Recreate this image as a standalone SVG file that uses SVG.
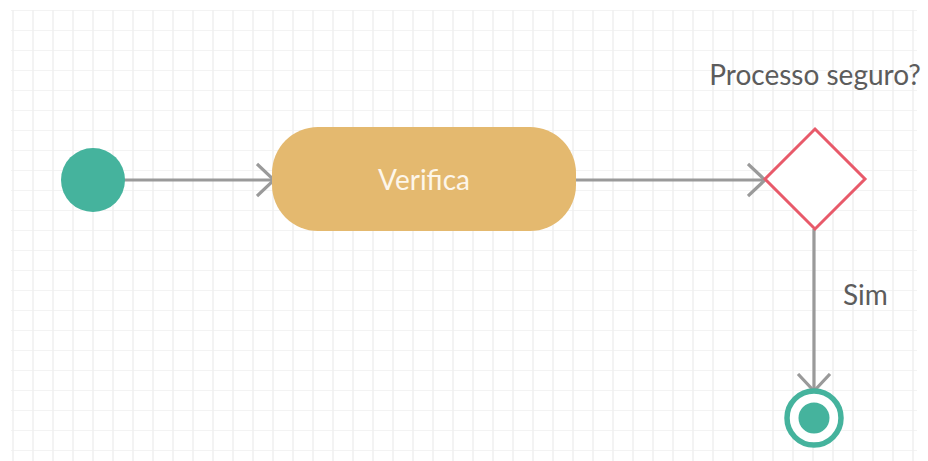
<svg xmlns="http://www.w3.org/2000/svg" width="928" height="461" viewBox="0 0 928 461">
  <defs>
    <pattern id="grid" x="3" y="10" width="20" height="20" patternUnits="userSpaceOnUse">
      <path d="M10 0V20M0 0H20" fill="none" stroke="#f0f0f0" stroke-width="1.6"/>
    </pattern>
    <marker id="open-arrow" viewBox="0 0 20 36" refX="18" refY="18" markerWidth="20" markerHeight="36" markerUnits="userSpaceOnUse" orient="auto">
      <path d="M1 2L18 18L1 34" fill="none" stroke="#9a9a9a" stroke-width="3.2"/>
    </marker>
    <style>
      .label { font-family: Lato, "Open Sans", sans-serif; font-size: 28px; fill: #5c5c5c; }
      .conn { fill: none; stroke: #9a9a9a; stroke-width: 3.2; marker-end: url(#open-arrow); }
      .state { fill: #45b39d; }
    </style>
  </defs>

  <!-- canvas -->
  <rect width="928" height="461" fill="#ffffff"/>
  <rect x="11" y="10" width="906" height="451" fill="url(#grid)"/>

  <!-- connectors -->
  <g id="connectors">
    <path class="conn" d="M124 180H274"/>
    <path class="conn" d="M576 180H765"/>
    <path class="conn" d="M814 229V391"/>
    <text class="label" x="843" y="305">Sim</text>
  </g>

  <g id="start">
    <circle class="state" cx="93" cy="180" r="32"/>
  </g>

  <g id="verifica">
    <rect x="272" y="127" width="304" height="104" rx="46" ry="46" fill="#e4b96f"/>
    <text x="424" y="190" text-anchor="middle" font-family="Lato, 'Open Sans', sans-serif" font-size="28" fill="#fdf6ea">Verifica</text>
  </g>

  <g id="decisao">
    <polygon points="815,129 865,179 815,229 765,179" fill="#ffffff" stroke="#e85a6a" stroke-width="3"/>
    <text class="label" x="815" y="85" text-anchor="middle">Processo seguro?</text>
  </g>

  <g id="fim">
    <circle cx="814" cy="418" r="27" fill="#ffffff" stroke="#45b39d" stroke-width="5.5"/>
    <circle class="state" cx="814" cy="418" r="15.5"/>
  </g>
</svg>
